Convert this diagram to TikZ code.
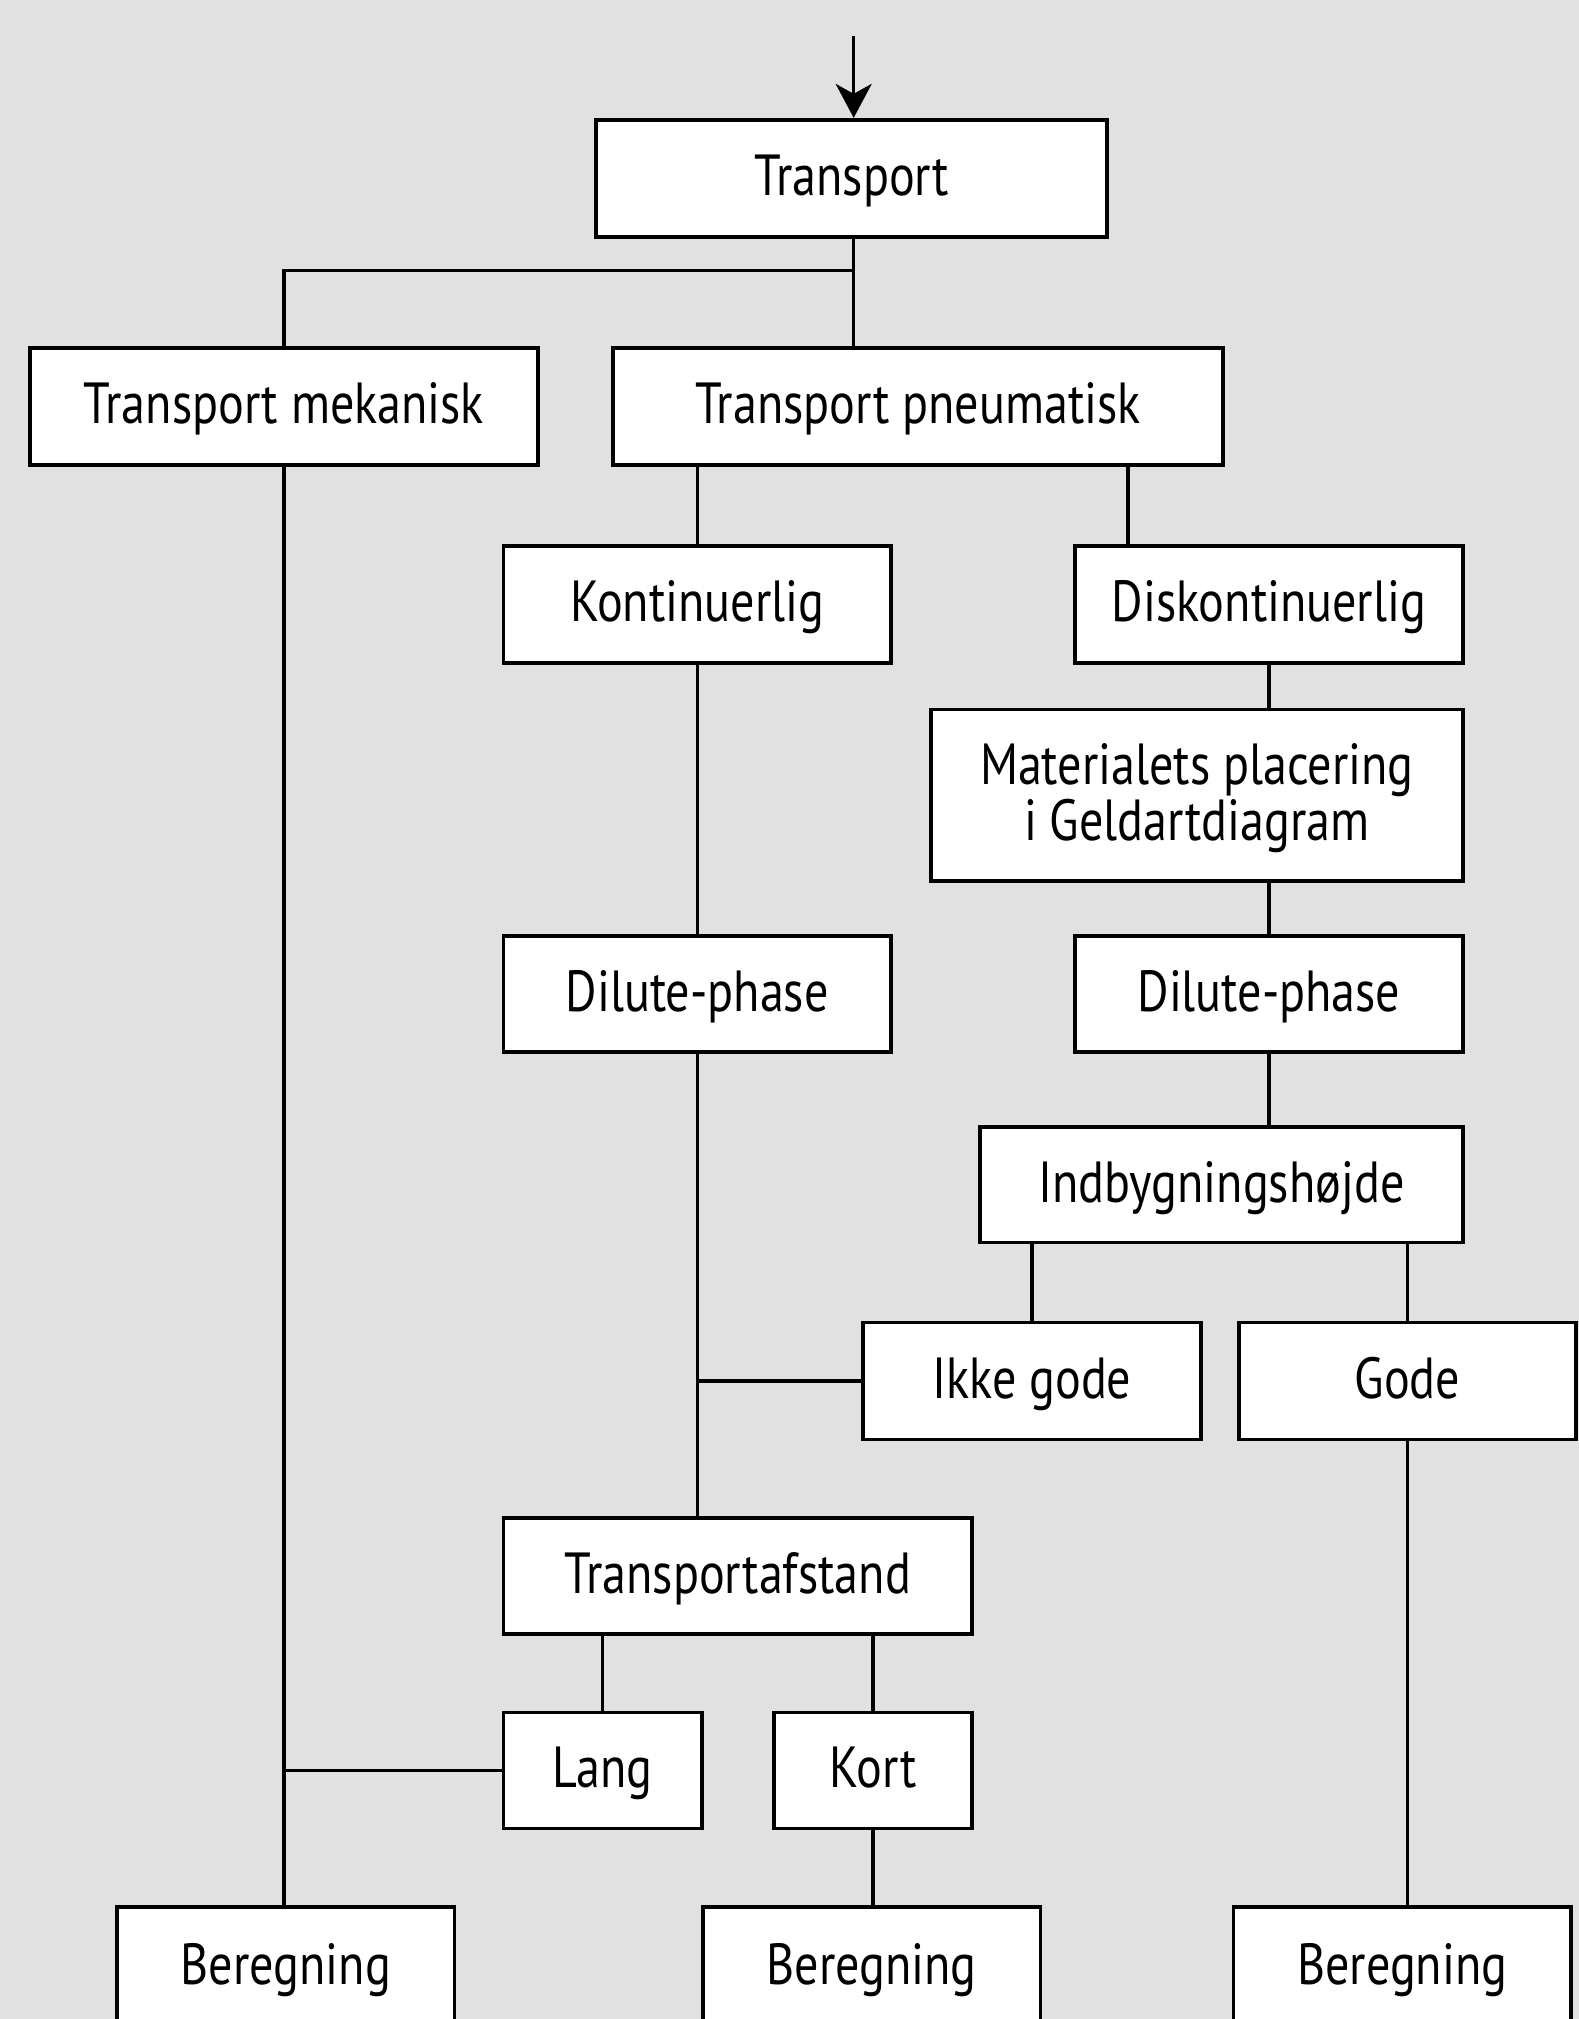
\documentclass[tikz,border=0pt]{standalone}
\usepackage{fontspec}
\setmainfont{PT Sans}[FakeStretch=0.83]
\usetikzlibrary{arrows.meta}
\definecolor{bg}{HTML}{E1E1E1}
\tikzset{
  bx/.style 2 args={draw, fill=white, line width=1.9pt, minimum width=#1*0.644pt,
    minimum height=#2*0.644pt, inner sep=0pt, align=center,
    text height=22pt, text depth=4.6pt,
    font=\fontsize{29}{28}\selectfont},
  conn/.style={line width=1.6pt},
}
\begin{document}
\begin{tikzpicture}[x=0.644pt,y=-0.644pt]
\fill[bg] (0,0) rectangle (1226,1568);
\useasboundingbox (0,0) rectangle (1226,1568);
\clip (0,0) rectangle (1226,1568);
\node[bx={397}{91}] (trans) at (661.5,138.5) {Transport};
\node[bx={395}{91}] (mek) at (220.5,315.5) {Transport mekanisk};
\node[bx={474}{91}] (pneu) at (713,315.5) {Transport pneumatisk};
\node[bx={301}{91}] (kont) at (541.5,469.5) {Kontinuerlig};
\node[bx={301}{91}] (disk) at (985.5,469.5) {Diskontinuerlig};
\node[bx={413}{133}, text height=50pt] (mat) at (929.5,617.5) {Materialets placering\\i Geldartdiagram};
\node[bx={301}{90}] (dil1) at (541.5,772) {Dilute-phase};
\node[bx={301}{90}] (dil2) at (985.5,772) {Dilute-phase};
\node[bx={375}{90}] (ind) at (948.5,920) {Indbygningshøjde};
\node[bx={263}{91}] (ikke) at (801.5,1072.5) {Ikke gode};
\node[bx={262}{91}] (gode) at (1093,1072.5) {Gode};
\node[bx={364}{90}] (taf) at (573,1224) {Transportafstand};
\node[bx={154}{90}] (lang) at (468,1375) {Lang};
\node[bx={154}{90}] (kort) at (678,1375) {Kort};
\node[bx={262}{94}] (ber1) at (222,1528) {Beregning};
\node[bx={262}{94}] (ber2) at (677,1528) {Beregning};
\node[bx={262}{94}] (ber3) at (1089,1528) {Beregning};
\coordinate (top) at (663,28);
\coordinate (xa) at (663,0);
\coordinate (xb) at (876,0);
\coordinate (jy) at (0,210);
% connectors
\draw[conn,-{Stealth[length=17pt,width=18pt,inset=5pt]}] (top) -- (top |- trans.north);
\draw[conn] (xa |- trans.south) -- (xa |- pneu.north);
\draw[conn] (xa |- jy) -| (mek.north);
\draw[conn] (kont.north) -- (kont.north |- pneu.south);
\draw[conn] (xb |- pneu.south) -- (xb |- disk.north);
\draw[conn] (disk.south) -- (disk.south |- mat.north);
\draw[conn] (dil2.north |- mat.south) -- (dil2.north);
\draw[conn] (dil2.south) -- (dil2.south |- ind.north);
\draw[conn] (ikke.north) -- (ikke.north |- ind.south);
\draw[conn] (gode.north) -- (gode.north |- ind.south);
\draw[conn] (kont.south) -- (dil1.north);
\draw[conn] (dil1.south) -- (dil1.south |- taf.north);
\draw[conn] (dil1.south |- ikke.west) -- (ikke.west);
\draw[conn] (lang.north) -- (lang.north |- taf.south);
\draw[conn] (kort.north) -- (kort.north |- taf.south);
\draw[conn] (mek.south) -- (mek.south |- ber1.north);
\draw[conn] (mek.south |- lang.west) -- (lang.west);
\draw[conn] (kort.south) -- (kort.south |- ber2.north);
\draw[conn] (gode.south) -- (gode.south |- ber3.north);
\end{tikzpicture}
\end{document}
